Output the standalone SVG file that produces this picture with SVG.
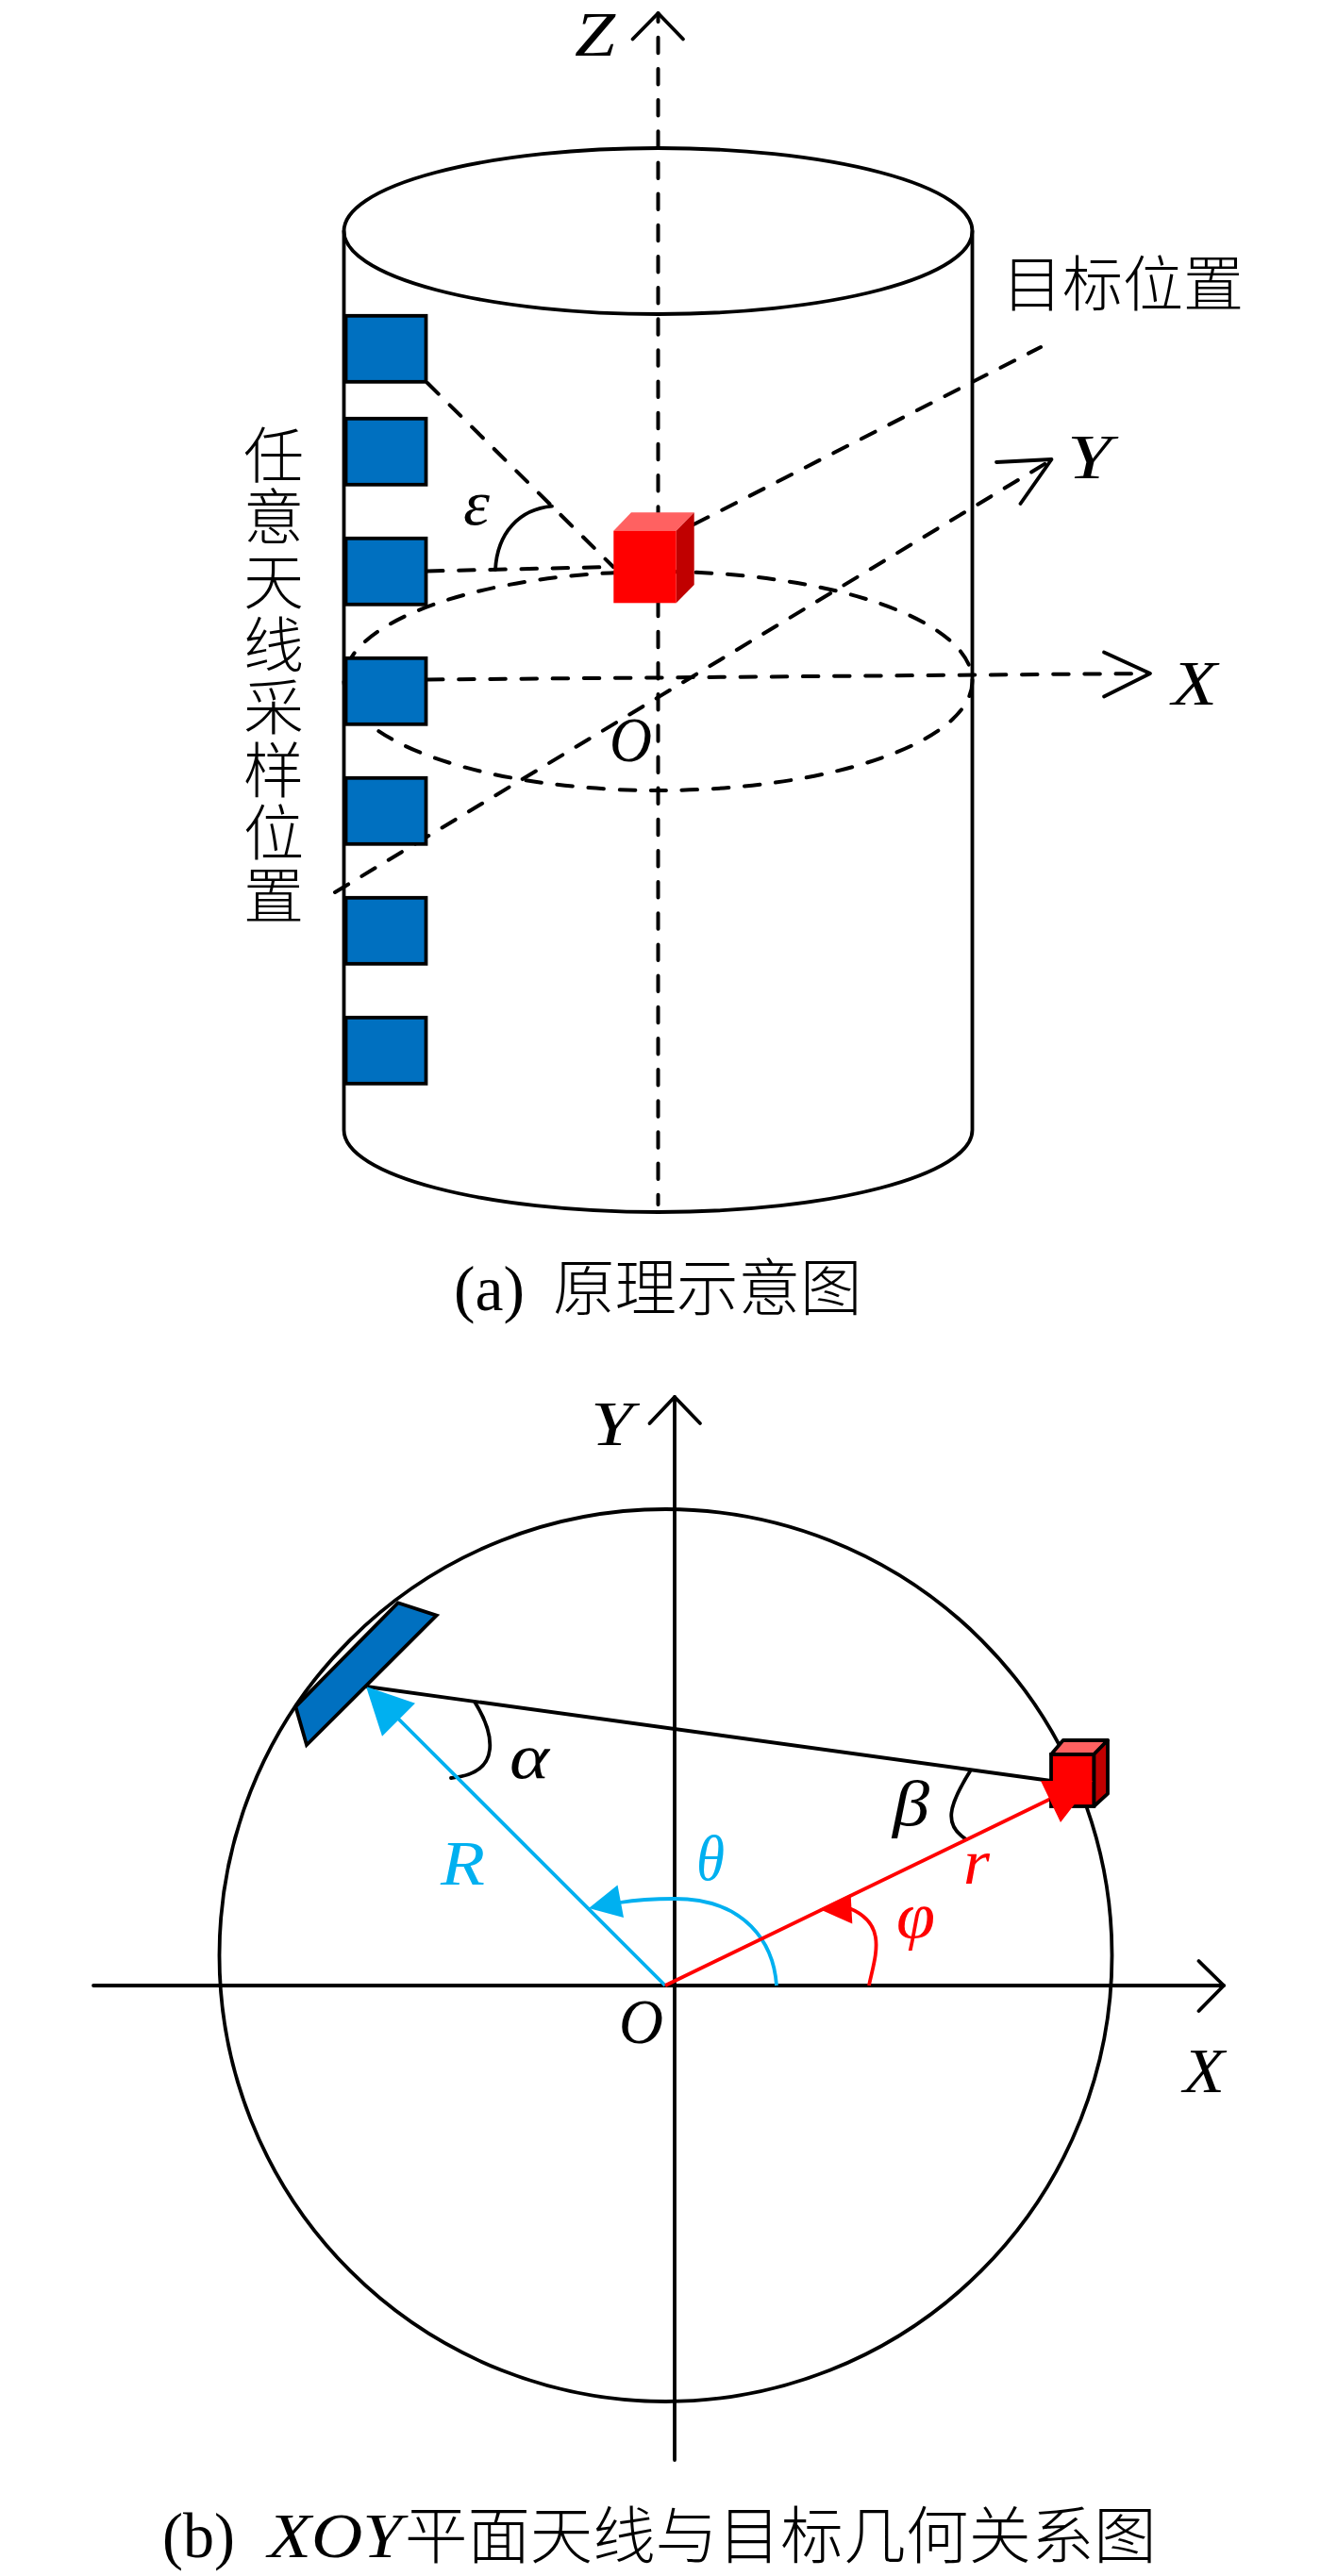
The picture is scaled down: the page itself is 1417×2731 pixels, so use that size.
<svg xmlns="http://www.w3.org/2000/svg" width="1417" height="2731" viewBox="0 0 1417 2731">
<style>
.s{fill:none;stroke:#000;stroke-width:3.8;stroke-linejoin:round;stroke-linecap:round}
.d{fill:none;stroke:#000;stroke-width:4;stroke-linecap:round;stroke-dasharray:16.5 16.66}
.ant{fill:#0070C0;stroke:#000;stroke-width:3.8}
.m{font-family:"Liberation Serif",serif;font-style:italic;font-size:68px;fill:#000}
.r{font-family:"Liberation Serif",serif;font-size:68px;fill:#000}
.c{font-family:"Noto Sans CJK SC",sans-serif;font-weight:300;font-size:64px;fill:#000}
</style>
<rect width="1417" height="2731" fill="#fff"/>
<g id="a-cylinder">
<ellipse class="s" cx="697.5" cy="245" rx="333" ry="88"/>
<path class="s" d="M364.5,245V1198C364.5,1246 514,1285 697.5,1285C881,1285 1030.5,1246 1030.5,1198V245"/>
</g>
<g id="a-connectors">
<ellipse class="d" cx="697.5" cy="722" rx="333" ry="116"/>
<path class="d" style="stroke-dashoffset:7.4" d="M697.5,14V1277"/>
<path class="s" d="M670.5,41.5L697.5,14L724,41.5"/>
<path class="d" d="M453,720.5L1216,714"/>
<path class="s" d="M1170,691.5L1219,714L1170,738.5"/>
<path class="d" d="M355,946L1112,489"/>
<path class="s" d="M1056,490L1114.5,487L1081.5,534"/>
<path class="d" d="M735.7,555.8L1103,368"/>
<path class="d" d="M453,406L650,601"/>
<path class="d" d="M453,605.5L650,601"/>
<path class="s" d="M525,604C527,565 550,540 585,536.7"/>
</g>
<g id="a-antennas">
<rect class="ant" x="366.5" y="334.8" width="85" height="70"/>
<rect class="ant" x="366.5" y="443.8" width="85" height="70"/>
<rect class="ant" x="366.5" y="570.8" width="85" height="70"/>
<rect class="ant" x="366.5" y="697.8" width="85" height="70"/>
<rect class="ant" x="366.5" y="824.8" width="85" height="70"/>
<rect class="ant" x="366.5" y="951.8" width="85" height="70"/>
<rect class="ant" x="366.5" y="1078.8" width="85" height="70"/>
</g>
<g id="a-target">
<polygon fill="#FF6161" points="650.3,562.7 669,543.3 735.7,543.3 716.7,562.7"/>
<polygon fill="#C00000" points="716.7,562.7 735.7,543.3 735.7,620 716.7,639.3"/>
<rect x="650.3" y="562.7" width="66.4" height="76.6" fill="#F00"/>
</g>
<g id="a-labels">
<text class="m" x="609" y="59" textLength="43" lengthAdjust="spacingAndGlyphs">Z</text>
<text class="m" x="1131" y="507" textLength="47" lengthAdjust="spacingAndGlyphs">Y</text>
<text class="m" x="1242" y="747" textLength="48" lengthAdjust="spacingAndGlyphs">X</text>
<text class="m" x="646" y="807" textLength="45" lengthAdjust="spacingAndGlyphs">O</text>
<text class="m" x="491" y="556" textLength="28" lengthAdjust="spacingAndGlyphs">ε</text>
<text class="c" x="1062" y="324">目标位置</text>
<text class="c" text-anchor="middle" x="290 290 290 290 290 290 290 290" y="506 571 640 707 773 840 906 973">任意天线采样位置</text>
<text class="r" x="481" y="1389" textLength="75" lengthAdjust="spacingAndGlyphs">(a)</text>
<text class="c" style="font-size:65.5px" x="586" y="1389">原理示意图</text>
</g>
<g id="b-circle"><circle class="s" cx="705.5" cy="2073" r="473"/></g>
<g id="b-connectors">
<path class="s" d="M715,2608V1481"/>
<path class="s" d="M688.5,1509L715,1481L742,1509"/>
<path class="s" d="M99,2105H1297"/>
<path class="s" d="M1270.5,2079L1297,2105L1270.5,2132"/>
<path class="s" d="M388,1788L1114,1888"/>
<path class="s" d="M503.5,1805C522,1835 535,1880 478,1885"/>
<path class="s" d="M1028,1878C1005,1915 1000,1935 1024,1950"/>
<g fill="none" stroke="#00B0F0" stroke-width="3.8">
<path d="M705,2105L422,1822"/>
<path d="M823,2105C820,2060 790,2013 715,2013C695,2013 675,2014 657,2017"/>
</g>
<polygon fill="#00B0F0" points="388,1788 440,1805.7 405,1840.7"/>
<polygon fill="#00B0F0" points="624,2023 654.5,1998.4 661,2033"/>
<g fill="none" stroke="#F00" stroke-width="3.8">
<path d="M705,2105L1128,1900"/>
<path d="M921,2105C927,2075 942,2040 900,2023"/>
</g>
<polygon fill="#F00" points="868.5,2024 901.6,2008 903.3,2039.6"/>
</g>
<g id="b-antenna"><polygon class="ant" points="421.7,1699.3 462.7,1712.7 325,1850 313.3,1809.3"/></g>
<g id="b-target">
<polygon fill="#FF6161" stroke="#000" stroke-width="3.8" stroke-linejoin="round" points="1114,1860 1126.7,1845 1174,1845 1159.3,1860"/>
<polygon fill="#C00000" stroke="#000" stroke-width="3.8" stroke-linejoin="round" points="1159.3,1860 1174,1845 1174,1901.7 1159.3,1915"/>
<rect x="1114" y="1860" width="45.3" height="55" fill="#F00" stroke="#000" stroke-width="3.8"/>
<polygon fill="#F00" points="1103,1888 1124,1932 1158,1888"/>
</g>
<g id="b-labels">
<text class="m" x="626" y="1532" textLength="45" lengthAdjust="spacingAndGlyphs">Y</text>
<text class="m" x="656" y="2166" textLength="47" lengthAdjust="spacingAndGlyphs">O</text>
<text class="m" x="1254" y="2218" textLength="44" lengthAdjust="spacingAndGlyphs">X</text>
<text class="m" style="fill:#00B0F0" x="467" y="1998" textLength="47" lengthAdjust="spacingAndGlyphs">R</text>
<text class="m" style="fill:#00B0F0" x="738" y="1993" textLength="30" lengthAdjust="spacingAndGlyphs">θ</text>
<text class="m" style="fill:#F00" x="1021" y="1997" textLength="28" lengthAdjust="spacingAndGlyphs">r</text>
<text class="m" style="fill:#F00" x="950" y="2054" textLength="41" lengthAdjust="spacingAndGlyphs">φ</text>
<text class="m" x="540" y="1885" textLength="42" lengthAdjust="spacingAndGlyphs">α</text>
<text class="m" x="946" y="1935" textLength="39" lengthAdjust="spacingAndGlyphs">β</text>
<text class="r" x="172" y="2711" textLength="77" lengthAdjust="spacingAndGlyphs">(b)</text>
<text class="m" x="284" y="2711" textLength="142" lengthAdjust="spacingAndGlyphs">XOY</text>
<text class="c" style="font-size:66.4px" x="429" y="2712">平面天线与目标几何关系图</text>
</g>
</svg>
